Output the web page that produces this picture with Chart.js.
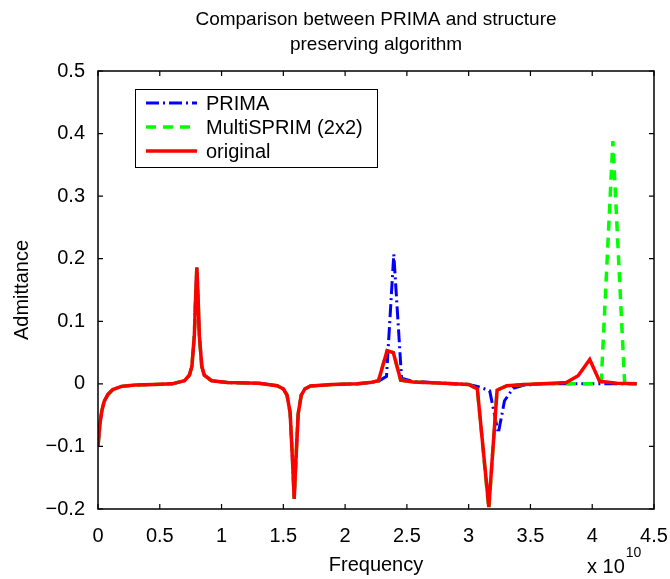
<!DOCTYPE html>
<html>
<head>
<meta charset="utf-8">
<title>Comparison between PRIMA and structure preserving algorithm</title>
<script src="https://cdn.jsdelivr.net/npm/chart.js@4/dist/chart.umd.min.js"></script>
<style>
  html, body { margin: 0; padding: 0; background: #fff; }
  #chart { display: block; }
</style>
</head>
<body>
<canvas id="chart" width="670" height="579"></canvas>
<script>
// frequency values are in units of 1e10 Hz (axis carries the "x 10^10" factor)
const origFreq = [0, 0.015, 0.03, 0.05, 0.08, 0.12, 0.19, 0.3, 0.45, 0.6, 0.7, 0.74, 0.76, 0.78, 0.79, 0.8, 0.81, 0.82, 0.84, 0.86, 0.92, 1.05, 1.3, 1.45, 1.5, 1.53, 1.555, 1.575, 1.588, 1.6, 1.62, 1.645, 1.675, 1.72, 1.9, 2.1, 2.2, 2.27, 2.34, 2.39, 2.45, 2.55, 2.8, 3.0, 3.07, 3.163, 3.23, 3.31, 3.45, 3.6, 3.79, 3.886, 3.98, 4.06, 4.2, 4.36];
const origAdm = [-0.1, -0.065, -0.044, -0.028, -0.017, -0.009, -0.004, -0.002, -0.001, 0.0, 0.005, 0.014, 0.028, 0.078, 0.138, 0.186, 0.138, 0.078, 0.028, 0.014, 0.005, 0.002, 0.001, -0.003, -0.008, -0.018, -0.046, -0.125, -0.184, -0.13, -0.048, -0.018, -0.008, -0.0035, -0.001, 0.0, 0.002, 0.005, 0.053, 0.05, 0.006, 0.003, 0.001, -0.001, -0.008, -0.197, -0.01, -0.003, -0.001, 0.0, 0.002, 0.013, 0.039, 0.004, 0.001, 0.0];

const primaFreq = [0, 0.015, 0.03, 0.05, 0.08, 0.12, 0.19, 0.3, 0.45, 0.6, 0.7, 0.74, 0.76, 0.78, 0.79, 0.8, 0.81, 0.82, 0.84, 0.86, 0.92, 1.05, 1.3, 1.45, 1.5, 1.53, 1.555, 1.575, 1.588, 1.6, 1.62, 1.645, 1.675, 1.72, 1.9, 2.1, 2.2, 2.27, 2.335, 2.394, 2.457, 2.55, 2.8, 3.0, 3.07, 3.17, 3.24, 3.29, 3.36, 3.45, 3.6, 3.79, 3.886, 3.98, 4.06, 4.2, 4.36];
const primaAdm = [-0.1, -0.065, -0.044, -0.028, -0.017, -0.009, -0.004, -0.002, -0.001, 0.0, 0.005, 0.014, 0.028, 0.078, 0.138, 0.186, 0.138, 0.078, 0.028, 0.014, 0.005, 0.002, 0.001, -0.003, -0.008, -0.018, -0.046, -0.125, -0.184, -0.13, -0.048, -0.018, -0.008, -0.0035, -0.001, 0.0, 0.002, 0.004, 0.012, 0.207, 0.009, 0.004, 0.001, -0.001, -0.004, -0.011, -0.079, -0.027, -0.007, -0.002, 0.0, 0.0, 0.0, 0.0, 0.0, 0.0, 0.0];

const multiFreq = [0, 0.015, 0.03, 0.05, 0.08, 0.12, 0.19, 0.3, 0.45, 0.6, 0.7, 0.74, 0.76, 0.78, 0.79, 0.8, 0.81, 0.82, 0.84, 0.86, 0.92, 1.05, 1.3, 1.45, 1.5, 1.53, 1.555, 1.575, 1.588, 1.6, 1.62, 1.645, 1.675, 1.72, 1.9, 2.1, 2.2, 2.27, 2.34, 2.39, 2.45, 2.55, 2.8, 3.0, 3.07, 3.163, 3.23, 3.31, 3.45, 3.6, 3.79, 3.886, 3.98, 4.073, 4.167, 4.262, 4.36];
const multiAdm = [-0.1, -0.065, -0.044, -0.028, -0.017, -0.009, -0.004, -0.002, -0.001, 0.0, 0.005, 0.014, 0.028, 0.078, 0.138, 0.186, 0.138, 0.078, 0.028, 0.014, 0.005, 0.002, 0.001, -0.003, -0.008, -0.018, -0.046, -0.125, -0.184, -0.13, -0.048, -0.018, -0.008, -0.0035, -0.001, 0.0, 0.002, 0.005, 0.053, 0.05, 0.006, 0.003, 0.001, -0.001, -0.008, -0.2, -0.01, -0.003, -0.001, 0.0, 0.0, 0.0, 0.0, 0.003, 0.388, 0.002, 0.0];

const xTicks = [0, 0.5, 1, 1.5, 2, 2.5, 3, 3.5, 4, 4.5];
const yTicks = [-0.2, -0.1, 0, 0.1, 0.2, 0.3, 0.4, 0.5];
const titleLines = ['Comparison between PRIMA and structure', 'preserving algorithm'];

const FONT = "'Liberation Sans', Arial, Helvetica, sans-serif";
Chart.defaults.font.family = FONT;
Chart.defaults.color = '#000';

const toPoints = (xs, ys) => xs.map((v, i) => ({ x: v, y: ys[i] }));
const fmt = (v) => {
    const r = Math.round(v * 10) / 10;
    return r < 0 ? '\u2212' + Math.abs(r) : String(r);
};

// MATLAB-style box, inward ticks, title, legend and exponent label
const matlabFrame = {
    id: 'matlabFrame',
    afterDraw(chart) {
        const { ctx, scales: { x, y } } = chart;
        const left = x.getPixelForValue(xTicks[0]);
        const right = x.getPixelForValue(xTicks[xTicks.length - 1]);
        const top = y.getPixelForValue(yTicks[yTicks.length - 1]);
        const bottom = y.getPixelForValue(yTicks[0]);
        ctx.save();

        ctx.strokeStyle = '#000';
        ctx.lineWidth = 1.5;
        ctx.strokeRect(left, top, right - left, bottom - top);

        ctx.lineWidth = 1.2;
        ctx.beginPath();
        xTicks.forEach(v => {
            const px = x.getPixelForValue(v);
            ctx.moveTo(px, bottom); ctx.lineTo(px, bottom - 5);
            ctx.moveTo(px, top); ctx.lineTo(px, top + 5);
        });
        yTicks.forEach(v => {
            const py = y.getPixelForValue(v);
            ctx.moveTo(left, py); ctx.lineTo(left + 5, py);
            ctx.moveTo(right, py); ctx.lineTo(right - 5, py);
        });
        ctx.stroke();

        // title
        ctx.fillStyle = '#000';
        ctx.textAlign = 'center';
        ctx.textBaseline = 'middle';
        ctx.font = `19px ${FONT}`;
        const cx = (left + right) / 2;
        titleLines.forEach((line, i) => ctx.fillText(line, cx, 20 + i * 25));

        // exponent
        ctx.textAlign = 'left';
        ctx.textBaseline = 'alphabetic';
        ctx.font = `20px ${FONT}`;
        ctx.fillText('x 10', 587, 573);
        const w = ctx.measureText('x 10').width;
        ctx.font = `14px ${FONT}`;
        ctx.fillText('10', 587 + w + 1, 557);

        // legend
        const lx = 135, ly = 89, lw = 242, lh = 78;
        ctx.fillStyle = '#fff';
        ctx.fillRect(lx, ly, lw, lh);
        ctx.strokeStyle = '#000';
        ctx.lineWidth = 1;
        ctx.strokeRect(lx + 0.5, ly + 0.5, lw, lh);
        ctx.font = `20px ${FONT}`;
        ctx.textBaseline = 'middle';
        chart.data.datasets.forEach((ds, i) => {
            const ry = ly + 14 + i * 24;
            ctx.beginPath();
            ctx.strokeStyle = ds.borderColor;
            ctx.lineWidth = ds.borderWidth;
            ctx.setLineDash(ds.borderDash || []);
            ctx.moveTo(lx + 11, ry);
            ctx.lineTo(lx + 62, ry);
            ctx.stroke();
            ctx.setLineDash([]);
            ctx.fillStyle = '#000';
            ctx.fillText(ds.label, lx + 71, ry + 1);
        });

        ctx.restore();
    }
};

new Chart(document.getElementById('chart').getContext('2d'), {
    type: 'line',
    data: {
        datasets: [
            {
                label: 'PRIMA',
                data: toPoints(primaFreq, primaAdm),
                borderColor: '#0000ff',
                borderWidth: 3,
                borderDash: [13, 4, 2, 4],
                order: 3
            },
            {
                label: 'MultiSPRIM (2x2)',
                data: toPoints(multiFreq, multiAdm),
                borderColor: '#00ff00',
                borderWidth: 3.5,
                borderDash: [10, 7],
                order: 2
            },
            {
                label: 'original',
                data: toPoints(origFreq, origAdm),
                borderColor: '#ff0000',
                borderWidth: 3.5,
                order: 1
            }
        ]
    },
    options: {
        responsive: false,
        animation: false,
        parsing: false,
        layout: { padding: { left: 0, top: 71, right: 16, bottom: 0 } },
        elements: { point: { radius: 0 }, line: { tension: 0, fill: false } },
        scales: {
            x: {
                type: 'linear',
                min: 0,
                max: 4.5,
                afterFit: (scale) => {
                    scale.height = 70;
                    scale.paddingLeft = 0;
                    scale.paddingRight = 0;
                },
                afterBuildTicks: (scale) => { scale.ticks = xTicks.map(v => ({ value: v })); },
                grid: { display: false, drawTicks: false },
                border: { display: false },
                ticks: { font: { size: 20 }, padding: 15, maxRotation: 0, callback: fmt },
                title: { display: true, text: 'Frequency', font: { size: 20 }, padding: { top: 2, bottom: 2 } }
            },
            y: {
                type: 'linear',
                min: -0.2,
                max: 0.5,
                afterFit: (scale) => {
                    scale.width = 98;
                    scale.paddingTop = 0;
                    scale.paddingBottom = 0;
                },
                afterBuildTicks: (scale) => { scale.ticks = yTicks.map(v => ({ value: v })); },
                grid: { display: false, drawTicks: false },
                border: { display: false },
                ticks: { font: { size: 20 }, padding: 13, callback: fmt },
                title: { display: true, text: 'Admittance', font: { size: 20 }, padding: { top: 10, bottom: 0 } }
            }
        },
        plugins: {
            legend: { display: false },
            title: { display: false },
            tooltip: { enabled: false }
        }
    },
    plugins: [matlabFrame]
});
</script>
</body>
</html>
